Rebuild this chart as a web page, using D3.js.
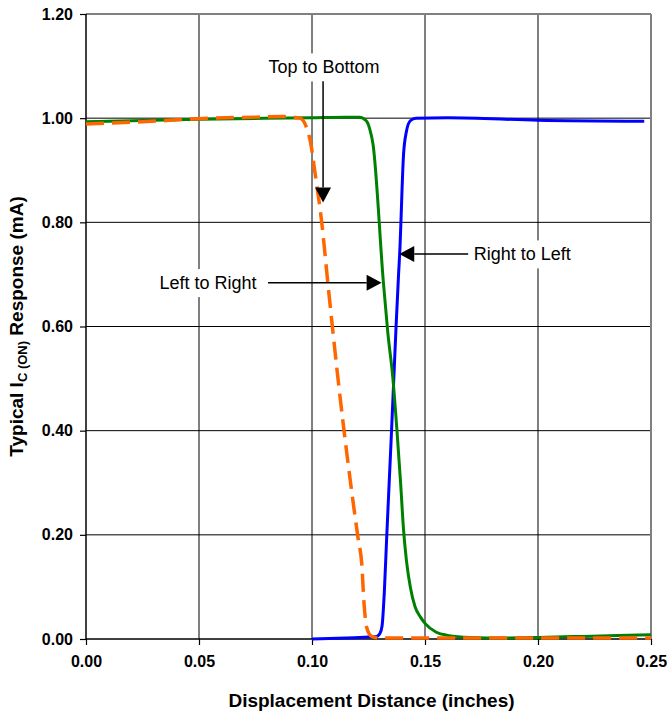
<!DOCTYPE html>
<html>
<head>
<meta charset="utf-8">
<script src="https://cdn.jsdelivr.net/npm/d3@7/dist/d3.min.js"></script>
<style>
  html, body { margin: 0; padding: 0; background: #fff; }
  svg text { font-family: "Liberation Sans", Arial, sans-serif; }
</style>
</head>
<body>
<svg id="chart" width="667" height="713"></svg>
<script>
// Typical IC(ON) response vs displacement distance, three approach directions

// --- data ---
const leftToRightX = [0.000, 0.050, 0.100, 0.115, 0.121, 0.124, 0.1255, 0.127, 0.1316, 0.1335, 0.1358, 0.1376, 0.1392, 0.1405, 0.1418, 0.1435, 0.1456, 0.148, 0.150, 0.155, 0.160, 0.170, 0.185, 0.200, 0.220, 0.250];
const leftToRightY = [0.993, 0.998, 1.001, 1.002, 1.002, 0.995, 0.980, 0.950, 0.684, 0.590, 0.500, 0.400, 0.300, 0.210, 0.150, 0.100, 0.062, 0.042, 0.030, 0.013, 0.007, 0.003, 0.002, 0.003, 0.005, 0.008];

const rightToLeftX = [0.100, 0.115, 0.125, 0.1286, 0.130, 0.131, 0.132, 0.133, 0.1342, 0.1352, 0.1362, 0.1372, 0.1383, 0.1388, 0.1405, 0.1418, 0.1435, 0.146, 0.160, 0.200, 0.247];
const rightToLeftY = [0.000, 0.002, 0.004, 0.005, 0.010, 0.025, 0.090, 0.190, 0.305, 0.400, 0.500, 0.600, 0.700, 0.740, 0.930, 0.975, 0.995, 1.000, 1.001, 0.996, 0.994];

const topToBottomX = [0.000, 0.025, 0.050, 0.075, 0.088, 0.093, 0.0947, 0.0991, 0.1013, 0.1043, 0.107, 0.1115, 0.1205, 0.122, 0.123, 0.1242, 0.1264, 0.130, 0.150, 0.200, 0.250];
const topToBottomY = [0.989, 0.993, 0.999, 1.002, 1.003, 1.001, 1.000, 0.959, 0.896, 0.800, 0.684, 0.500, 0.190, 0.145, 0.070, 0.022, 0.005, 0.002, 0.002, 0.002, 0.002];

const xTicks = [0.00, 0.05, 0.10, 0.15, 0.20, 0.25];
const yTicks = [0.00, 0.20, 0.40, 0.60, 0.80, 1.00, 1.20];

// annotation labels: text, arrow tip (data units), label anchor (data units)
const annoText = ['Top to Bottom', 'Left to Right', 'Right to Left'];
const annoTip = [[0.1049, 0.838], [0.1308, 0.684], [0.1386, 0.739]];
const annoLabel = [[0.1053, 1.098], [0.054, 0.684], [0.193, 0.739]];

// --- layout ---
const svg = d3.select('#chart');
const m = {left: 86, top: 14, right: 651, bottom: 639};
const x = d3.scaleLinear().domain([0, 0.25]).range([m.left, m.right]);
const y = d3.scaleLinear().domain([0, 1.2]).range([m.bottom, m.top]);

// gridlines
svg.append('g').selectAll('line')
  .data(yTicks.filter(d => d > 0 && d < 1.2)).enter().append('line')
  .attr('x1', m.left).attr('x2', m.right)
  .attr('y1', d => y(d)).attr('y2', d => y(d))
  .attr('stroke', '#000').attr('stroke-width', 1);
svg.append('g').selectAll('line')
  .data(xTicks.filter(d => d > 0 && d < 0.25)).enter().append('line')
  .attr('x1', d => x(d)).attr('x2', d => x(d))
  .attr('y1', m.top).attr('y2', m.bottom)
  .attr('stroke', '#000').attr('stroke-width', 1);

// gray frame top/right
svg.append('line').attr('x1', m.left).attr('x2', m.right).attr('y1', y(1.2)).attr('y2', y(1.2))
  .attr('stroke', '#808080').attr('stroke-width', 2);
svg.append('line').attr('x1', x(0.25)).attr('x2', x(0.25)).attr('y1', m.top).attr('y2', m.bottom)
  .attr('stroke', '#808080').attr('stroke-width', 2);

// annotation label boxes (white, break the gridlines)
const labels = svg.append('g');
annoText.forEach((t, i) => {
  const lx = x(annoLabel[i][0]), ly = y(annoLabel[i][1]);
  const txt = labels.append('text')
    .attr('x', lx).attr('y', ly).attr('dy', '0.35em')
    .attr('text-anchor', 'middle')
    .attr('font-size', '18px').attr('fill', '#000')
    .text(t);
  const bb = txt.node().getBBox();
  labels.insert('rect', 'text')
    .attr('x', bb.x - 5).attr('y', bb.y - 4)
    .attr('width', bb.width + 10).attr('height', bb.height + 8)
    .attr('fill', '#fff');
});

// axes
const xAxis = svg.append('g').attr('transform', `translate(0,${m.bottom})`)
  .call(d3.axisBottom(x).tickValues(xTicks).tickSize(6).tickPadding(11).tickFormat(d3.format('.2f')));
const yAxis = svg.append('g').attr('transform', `translate(${m.left},0)`)
  .call(d3.axisLeft(y).tickValues(yTicks).tickSize(6).tickPadding(7).tickFormat(d3.format('.2f')));
[xAxis, yAxis].forEach(g => {
  g.select('.domain').remove();
  g.selectAll('.tick line').attr('stroke', '#000').attr('stroke-width', 1.2);
  g.selectAll('.tick text')
    .attr('font-family', '"Liberation Sans", Arial, sans-serif')
    .attr('font-size', '16px').attr('font-weight', 'bold').attr('fill', '#000');
});
svg.append('line').attr('x1', m.left).attr('x2', m.right).attr('y1', m.bottom).attr('y2', m.bottom)
  .attr('stroke', '#000').attr('stroke-width', 1.5);
svg.append('line').attr('x1', m.left).attr('x2', m.left).attr('y1', m.top).attr('y2', m.bottom)
  .attr('stroke', '#000').attr('stroke-width', 1.5);

// curves
const line = d3.line().x(d => x(d[0])).y(d => y(d[1])).curve(d3.curveMonotoneX);
const zip = (a, b) => a.map((v, i) => [v, b[i]]);

svg.append('path').datum(zip(rightToLeftX, rightToLeftY))
  .attr('d', line).attr('fill', 'none')
  .attr('stroke', '#0000ff').attr('stroke-width', 3).attr('stroke-linejoin', 'round');
svg.append('path').datum(zip(leftToRightX, leftToRightY))
  .attr('d', line).attr('fill', 'none')
  .attr('stroke', '#008000').attr('stroke-width', 3).attr('stroke-linejoin', 'round');
svg.append('path').datum(zip(topToBottomX, topToBottomY))
  .attr('d', line).attr('fill', 'none')
  .attr('stroke', '#ff6600').attr('stroke-width', 3.5)
  .attr('stroke-dasharray', '18,8');

// arrows
const arrows = svg.append('g');
annoText.forEach((t, i) => {
  const tx = x(annoTip[i][0]), ty = y(annoTip[i][1]);
  const lx = x(annoLabel[i][0]), ly = y(annoLabel[i][1]);
  const head = 15, half = 8;
  let sx, sy, dx, dy;
  if (i === 0) { sx = tx; sy = ly + 14; dx = 0; dy = 1; }
  else if (i === 1) { sx = lx + 60; sy = ty; dx = 1; dy = 0; }
  else { sx = lx - 54; sy = ty; dx = -1; dy = 0; }
  const bx = tx - dx * head, by = ty - dy * head;
  arrows.append('line').attr('x1', sx).attr('y1', sy).attr('x2', bx).attr('y2', by)
    .attr('stroke', '#000').attr('stroke-width', 1.5);
  arrows.append('path')
    .attr('d', `M${tx},${ty}L${bx - dy * half},${by + dx * half}L${bx + dy * half},${by - dx * half}Z`)
    .attr('fill', '#000');
});

// axis titles
svg.append('text')
  .attr('x', (m.left + m.right) / 2 + 3).attr('y', 707)
  .attr('text-anchor', 'middle').attr('font-size', '19px').attr('font-weight', 'bold')
  .text('Displacement Distance (inches)');

const yt = svg.append('text')
  .attr('transform', `translate(23,${(m.top + m.bottom) / 2}) rotate(-90)`)
  .attr('text-anchor', 'middle').attr('font-size', '19px').attr('font-weight', 'bold');
yt.append('tspan').text('Typical I');
yt.append('tspan').attr('font-size', '13px').attr('dy', 4).text('C (ON)');
yt.append('tspan').attr('dy', -4).text(' Response (mA)');
</script>
</body>
</html>
